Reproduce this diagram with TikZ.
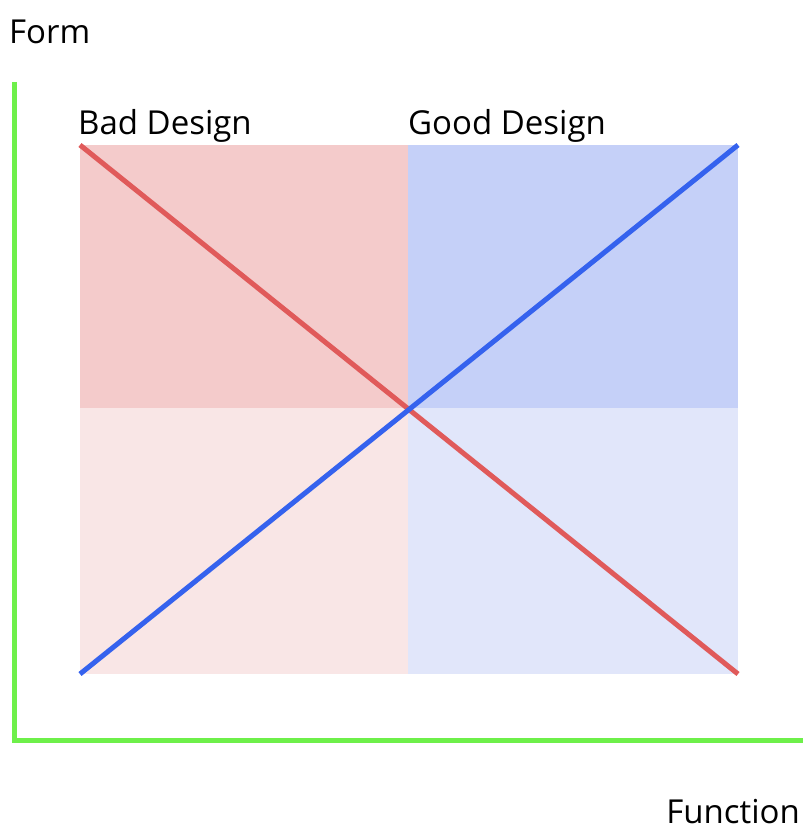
\documentclass[tikz,border=0pt]{standalone}
\usepackage{fontspec}
\setmainfont{Open Sans}
\usetikzlibrary{positioning, calc}

\definecolor{axisgreen}{HTML}{6EF04A}
\definecolor{badline}{HTML}{E05A5A}
\definecolor{goodline}{HTML}{3562EE}
\definecolor{badhigh}{HTML}{F4CBCB}
\definecolor{badlow}{HTML}{F9E6E6}
\definecolor{goodhigh}{HTML}{C5D0F8}
\definecolor{goodlow}{HTML}{E1E6FA}

\begin{document}
\begin{tikzpicture}[x=1pt,y=-1pt,
  label/.style={inner sep=0pt,font=\fontsize{33}{36}\selectfont},
  axis/.style={axisgreen,line width=5pt},
  diag/.style={line width=5pt}]
\useasboundingbox (0,0) rectangle (806,832);
% quadrants
\fill[badhigh]  (80,145)  rectangle (408,408);
\fill[goodhigh] (408,145) rectangle (738,408);
\fill[badlow]   (80,408)  rectangle (408,674);
\fill[goodlow]  (408,408) rectangle (738,674);
% axes
\coordinate (top) at (14,82);
\coordinate (origin) at (14,740);
\coordinate (right) at (803,740);
\draw[axis] (top) -- (origin) -- (right);
% diagonals
\coordinate (b1) at (80,145);  \coordinate (b2) at (738,674);
\coordinate (g1) at (80,674);  \coordinate (g2) at (738,145);
\draw[diag,badline]  (b1) -- (b2);
\draw[diag,goodline] (g1) -- (g2);
% labels
\node[label,anchor=base west] (form) at (9,44) {Form};
\node[label,anchor=base west] (bad) at (78,135) {Bad Design};
\node[label,anchor=base west] (good) at (408,135) {Good Design};
\node[label,anchor=base east] (function) at (800,823) {Function};
\end{tikzpicture}
\end{document}
